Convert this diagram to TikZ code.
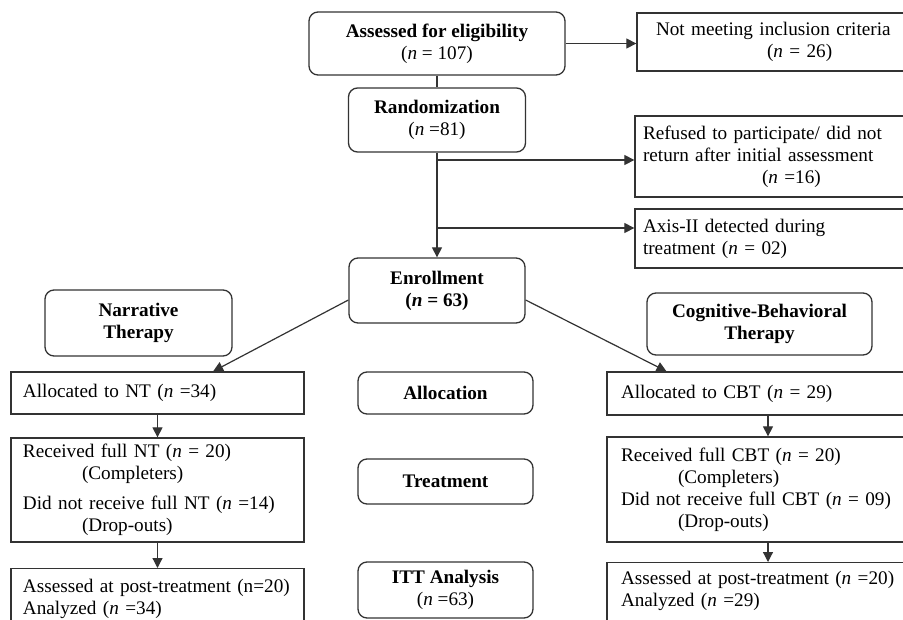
\documentclass[tikz,border=0pt]{standalone}
\usepackage{fontspec}
\setmainfont{Liberation Serif}
\usetikzlibrary{arrows.meta,calc}
\definecolor{linec}{HTML}{333333}
\begin{document}
\begin{tikzpicture}[x=1pt,y=-1pt,
  every node/.style={font=\fontsize{19.2}{22}\selectfont, text=black},
  box/.style={draw=linec, line width=1.3pt, inner ysep=0pt, align=left},
  rbox/.style={draw=linec, line width=1.3pt, inner sep=0pt, rounded corners=9pt, align=center,
               font=\fontsize{19.2}{22}\selectfont\bfseries},
  arr/.style={draw=linec, line width=1.2pt, -{Triangle[length=10pt,width=10pt]}},
  ln/.style={draw=linec, line width=1.2pt}]
\clip (0,0) rectangle (903,619);
\fill[white] (0,0) rectangle (903,619);

% top column
\node[rbox, minimum width=256pt, minimum height=63pt] (assess) at (437,43.5)
  {Assessed for eligibility\\\normalfont(\textit{n} =\ 107)};
\node[rbox, minimum width=177pt, minimum height=64pt] (rand) at (437,120)
  {Randomization\\\normalfont(\textit{n} =81)};
\node[rbox, minimum width=176pt, minimum height=65pt] (enroll) at (437,290.5)
  {Enrollment\\(\textit{n} = 63)};

% right exclusion boxes
\node[box, text width=240pt, inner xsep=19pt, minimum height=58pt] (notmeet) at (776,42)
  {Not meeting inclusion criteria\\\hspace*{111pt}(\textit{n} = 26)};
\node[box, text width=264pt, inner xsep=8pt, minimum height=81pt] (refused) at (775,156.5)
  {Refused to participate/ did not\\return after initial assessment\\\hspace*{119pt}(\textit{n} =16)};
\node[box, text width=264pt, inner xsep=8pt, minimum height=59pt] (axis) at (775,238.5)
  {Axis-II detected during\\treatment (\textit{n} =\ 02)};

% therapy headers
\node[rbox, minimum width=187pt, minimum height=66pt] (nt) at (138.5,323) {Narrative\\Therapy};
\node[rbox, minimum width=225pt, minimum height=62pt] (cbt) at (759.5,324) {Cognitive-Behavioral\\Therapy};

% left column
\node[box, text width=277pt, inner xsep=8pt, minimum height=42pt] (allocnt) at (157.5,393)
  {\hspace*{4pt}Allocated to NT (\textit{n} =34)};
\node[box, text width=277pt, inner xsep=8pt, minimum height=104pt] (recnt) at (157.5,490)
  {\hspace*{4pt}Received full NT (\textit{n} =\ 20)\\\hspace*{63pt}(Completers)\\[8pt]\hspace*{4pt}Did not receive full NT (\textit{n} =14)\\\hspace*{63pt}(Drop-outs)};
\node[box, text width=277pt, inner xsep=8pt, inner ysep=11pt, anchor=north] (assnt) at (157.5,568)
  {\hspace*{4pt}Assessed at post-treatment (n=20)\\\hspace*{4pt}Analyzed (\textit{n} =34)\\[6pt]\mbox{}};

% middle column
\node[rbox, minimum width=175pt, minimum height=42pt] (alloc) at (445.5,393) {Allocation};
\node[rbox, minimum width=175pt, minimum height=45pt] (treat) at (445.5,481.5) {Treatment};
\node[rbox, minimum width=175pt, minimum height=56pt] (itt) at (445.5,590)
  {ITT Analysis\\\normalfont(\textit{n} =63)};

% right column
\node[box, text width=294pt, inner xsep=14pt, minimum height=43pt] (alloccbt) at (768,393.5)
  {Allocated to CBT (\textit{n} =\ 29)};
\node[box, text width=294pt, inner xsep=14pt, minimum height=105pt] (reccbt) at (768,489.5)
  {Received full CBT (\textit{n} =\ 20)\\\hspace*{57pt}(Completers)\\Did not receive full CBT (\textit{n} =\ 09)\\\hspace*{57pt}(Drop-outs)};
\node[box, text width=294pt, inner xsep=14pt, inner ysep=9pt, anchor=north] (asscbt) at (768,562)
  {Assessed at post-treatment (\textit{n} =20)\\Analyzed (\textit{n} =29)\\[6pt]\mbox{}};

% connectors
\draw[arr] (assess.east) -- (assess.east -| notmeet.west);
\draw[ln] (assess.south) -- (rand.north);
\draw[arr] (rand.south) -- (enroll.north);
\coordinate (b1) at (437,160);
\coordinate (b2) at (437,228);
\draw[arr] (b1) -- (b1 -| refused.west);
\draw[arr] (b2) -- (b2 -| axis.west);
\draw[arr] ($(enroll.west)+(0,9.5)$) -- ($(allocnt.north west)!0.689!(allocnt.north east)$);
\draw[arr] ($(enroll.east)+(0,9.5)$) -- ($(alloccbt.north west)!0.186!(alloccbt.north east)$);
\draw[arr] (allocnt.south) -- (recnt.north);
\draw[arr] (recnt.south) -- (assnt.north);
\draw[arr] (alloccbt.south) -- (reccbt.north);
\draw[arr] (reccbt.south) -- (asscbt.north);
\end{tikzpicture}
\end{document}
